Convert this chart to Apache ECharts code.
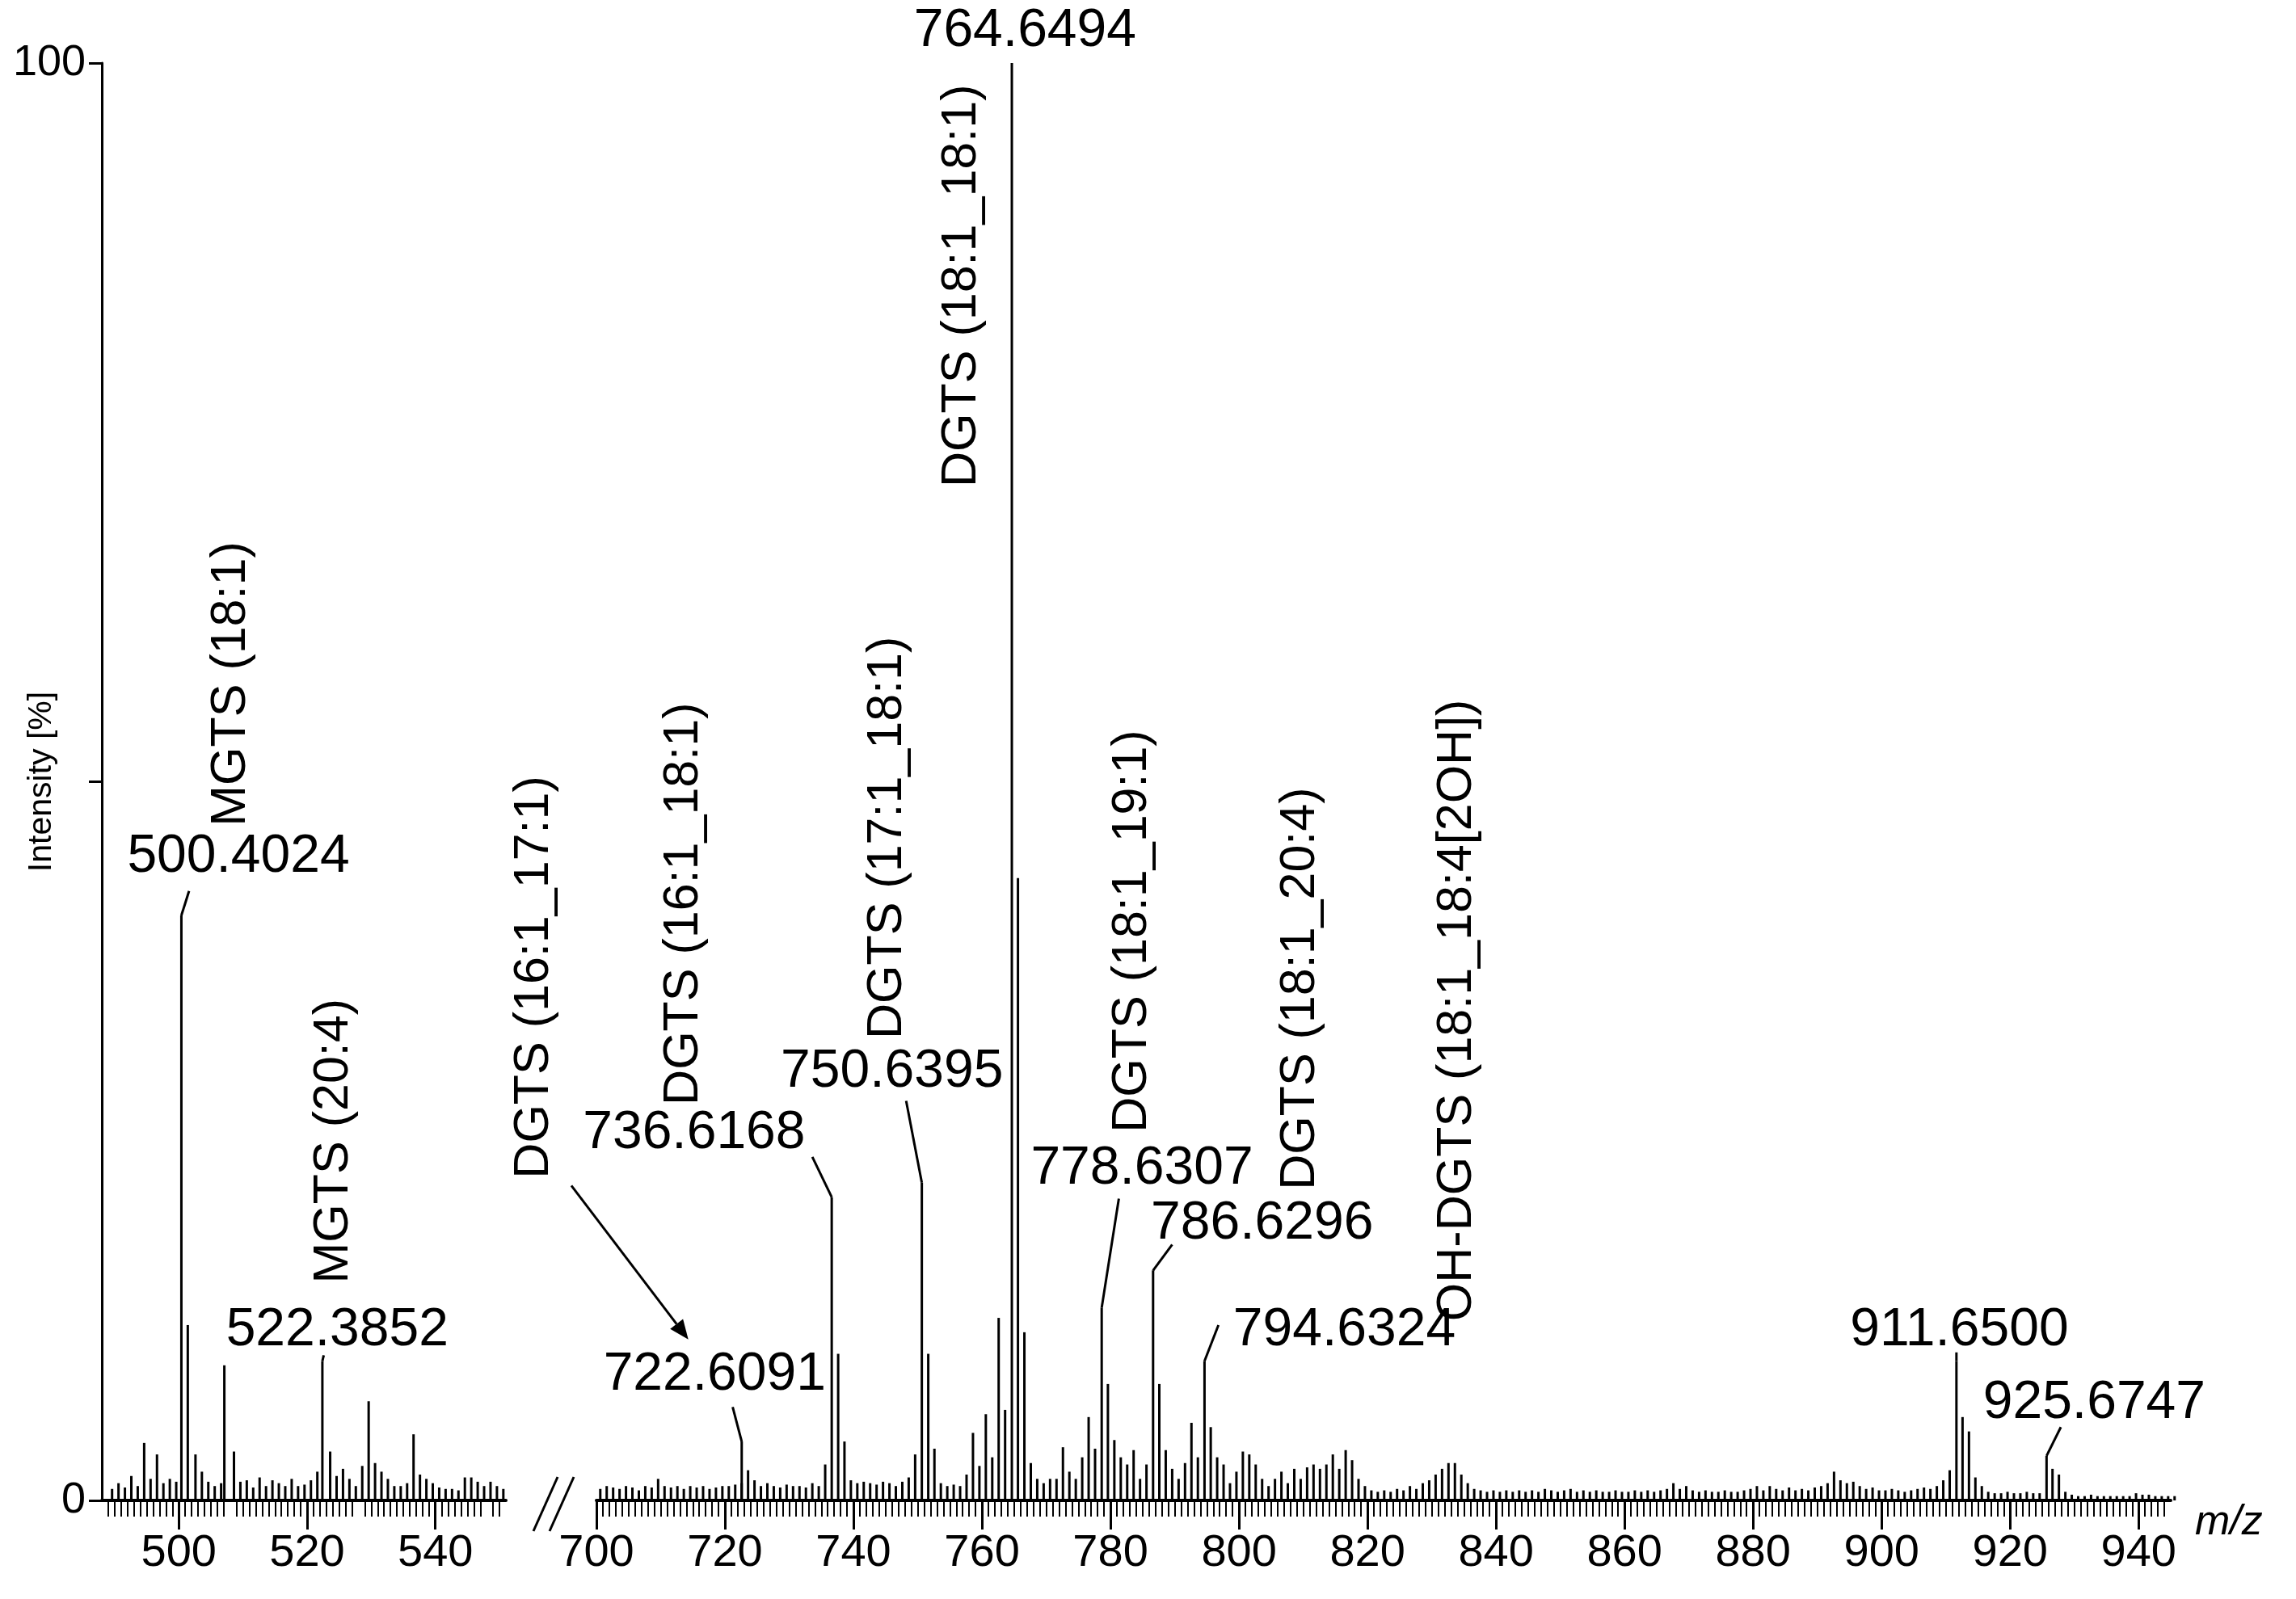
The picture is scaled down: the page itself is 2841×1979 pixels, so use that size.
<!DOCTYPE html>
<html><head><meta charset="utf-8">
<script src="https://cdn.jsdelivr.net/npm/echarts@6/dist/echarts.min.js"></script>
<style>html,body{margin:0;padding:0;background:#fff}#c{width:2841px;height:1979px}</style>
</head><body><div id="c"></div>
<script>
// ---------- DATA ----------
const leftStart = 489;
const leftNoise = [0.8,1.2,0.9,1.7,1.0,4.0,1.5,3.2,1.2,1.5,1.3,0,0,3.2,2.0,1.3,1.0,1.2,0,3.4,1.3,1.4,0.9,1.6,1.0,1.4,1.2,1.0,1.5,1.0,1.1,1.4,2.0,0,3.4,1.7,2.2,1.5,1.0,2.4,6.9,2.6,2.0,1.5,1.0,1.0,1.2,4.6,1.8,1.5,1.2,0.9,0.8,0.8,0.7,1.6,1.6,1.3,1.0,1.3,1.0,0.8];
const rightStart = 700;
const rightNoise = [
 0.8,1.0,0.9,0.8,1.0,0.9,0.7,1.0,0.9,1.5,1.0,0.9,1.0,0.8,1.0,0.9,1.0,0.8,0.9,1.0, // 700-719
 1.0,1.1,1.2,2.1,1.4,1.0,1.2,1.0,0.9,1.1,1.0,1.0,0.9,1.2,1.0,2.5,0,0,4.1,1.4, // 720-739
 1.2,1.3,1.2,1.1,1.3,1.2,1.0,1.3,1.6,3.2,0,0,3.6,1.2,1.0,1.1,1.0,1.8,4.7,2.4, // 740-759
 6.0,3.0,12.7,6.3,0,43.3,11.7,2.6,1.5,1.2,1.5,1.5,3.7,2.0,1.5,3.0,5.8,3.6,0,8.1, // 760-779
 4.2,3.0,2.5,3.5,1.5,2.5,0,8.1,3.5,2.2,1.5,2.6,5.4,3.0,0,5.1,3.0,2.5,1.2,2.0, // 780-799
 3.4,3.2,2.5,1.5,1.0,1.5,2.0,1.2,2.2,1.5,2.3,2.5,2.2,2.5,3.2,2.2,3.5,2.8,1.5,1.0, // 800-819
 0.7,0.6,0.7,0.6,0.8,0.7,1.0,0.8,1.2,1.4,1.8,2.2,2.6,2.6,1.8,1.2,0.8,0.7,0.6,0.7, // 820-839
 0.6,0.7,0.6,0.7,0.6,0.7,0.6,0.8,0.7,0.6,0.7,0.8,0.6,0.7,0.6,0.7,0.6,0.6,0.7,0.6, // 840-859
 0.6,0.7,0.6,0.7,0.6,0.7,0.8,1.2,0.8,1.0,0.7,0.6,0.7,0.6,0.6,0.7,0.6,0.6,0.7,0.8, // 860-879
 1.0,0.7,1.0,0.8,0.7,0.9,0.7,0.8,0.7,0.9,1.0,1.2,2.0,1.4,1.2,1.3,1.0,0.8,0.9,0.7, // 880-899
 0.7,0.8,0.7,0.6,0.7,0.8,0.9,0.8,1.0,1.4,2.1,0,5.8,4.8,1.6,1.0,0.6,0.5,0.5,0.6, // 900-919
 0.5,0.5,0.6,0.5,0.5,0,2.2,1.8,0.6,0.4,0.3,0.3,0.4,0.3,0.3,0.3,0.3,0.3,0.3,0.5, // 920-939
 0.4,0.4,0.3,0.3,0.3,0.3]; // 940-945
const mainPeaksLeft = [[500.4024,40.7],[501.4,12.2],[507.1,9.4],[522.3852,9.7]];
const mainPeaksRight = [[722.6091,4.1],[736.6168,21.1],[737.62,10.2],[750.6395,22.1],[751.64,10.2],[764.6494,100],[778.6307,13.4],[786.6296,16.0],[794.6324,9.7],[911.65,9.7],[925.6747,3.1]];
const peakLabelsLeft = ['500.4024','522.3852'];
const compoundsLeft = ['MGTS (18:1)','MGTS (20:4)'];
const peakLabelsRight = ['722.6091','736.6168','750.6395','764.6494','778.6307','786.6296','794.6324','911.6500','925.6747'];
const compoundsRight = ['DGTS (16:1_17:1)','DGTS (16:1_18:1)','DGTS (17:1_18:1)','DGTS (18:1_18:1)','DGTS (18:1_19:1)','DGTS (18:1_20:4)','OH-DGTS (18:1_18:4[2OH])'];
const xTicksLeft = [500,520,540];
const xTicksRight = [700,720,740,760,780,800,820,840,860,880,900,920,940];

// ---------- LAYOUT (annotation placement in data coords) ----------
const numLayoutLeft = [[500.4024,40.7,501.6,42.4,509.3,43.1],[522.3852,9.7,522.6,10.1,524.7,10.2]];
const compLayoutLeft = [[508.2,56.8],[524.2,25]];
const numLayoutRight = [
 [722.6091,4.1,721.2,6.5,718.4,7.1],
 [736.6168,21.1,733.6,23.9,715.2,23.9],
 [750.6395,22.1,748.2,27.8,746,28.2],
 [764.6494,100,764.6494,100,766.7,100.6],
 [778.6307,13.4,781.3,21.0,784.9,21.4],
 [786.6296,16.0,789.6,17.8,803.6,17.6],
 [794.6324,9.7,796.8,12.2,816.4,10.2],
 [911.65,9.7,911.65,10.3,912.1,10.2],
 [925.6747,3.1,927.9,5.1,933.1,5.1]];
const compLayoutRight = [[690.3,36.4],[713.6,41.5],[745.3,46.1],[756.9,84.5],[783.4,39.6],[809.6,35.6],[834,34.1]];
const arrowRight = [696.1,21.9,714.3,11.2];

const FONT = 'Liberation Sans, Arial, sans-serif';

function buildPeaks(start, noise, mains){
  const arr = noise.map((v,i)=>[start+i+0.6, v]).filter(d=>d[1]>0);
  mains.forEach(p=>arr.push(p));
  return arr;
}
const chart = echarts.init(document.getElementById('c'), null, {renderer:'canvas'});

function peakSeries(idx, data){
  return {type:'custom', xAxisIndex:idx, yAxisIndex:idx, data, clip:false,
    renderItem:(params, api)=>{
      const p0 = api.coord([api.value(0),0]);
      const p1 = api.coord([api.value(0),api.value(1)]);
      return {type:'line', shape:{x1:p0[0],y1:p0[1],x2:p1[0],y2:p1[1]}, style:{stroke:'#000',lineWidth:3}};
    }};
}
function annSeries(idx, labels, numLayout, comps, compLayout, arrow){
  return {type:'custom', xAxisIndex:idx, yAxisIndex:idx, data:[0], clip:false, silent:true, z:5,
    renderItem:(params, api)=>{
      const ch = [];
      labels.forEach((t,i)=>{
        const L = numLayout[i];
        const a = api.coord([L[0],L[1]]), b = api.coord([L[2],L[3]]), c = api.coord([L[4],L[5]]);
        ch.push({type:'line', shape:{x1:a[0],y1:a[1],x2:b[0],y2:b[1]}, style:{stroke:'#000',lineWidth:3}});
        ch.push({type:'text', x:c[0], y:c[1]+4, style:{text:t, fill:'#000', font:'66px '+FONT, align:'center', verticalAlign:'bottom'}});
      });
      comps.forEach((t,i)=>{
        const c = api.coord(compLayout[i]);
        ch.push({type:'text', x:c[0], y:c[1], rotation:Math.PI/2, style:{text:t, fill:'#000', font:'61px '+FONT, align:'center', verticalAlign:'middle'}});
      });
      if(arrow){
        const a = api.coord([arrow[0],arrow[1]]), b = api.coord([arrow[2],arrow[3]]);
        const ang = Math.atan2(b[1]-a[1], b[0]-a[0]);
        const hl=24, hw=10;
        const bx=b[0]-hl*Math.cos(ang), by=b[1]-hl*Math.sin(ang);
        ch.push({type:'line', shape:{x1:a[0],y1:a[1],x2:bx,y2:by}, style:{stroke:'#000',lineWidth:3}});
        ch.push({type:'polygon', shape:{points:[[b[0],b[1]],[bx-hw*Math.sin(ang),by+hw*Math.cos(ang)],[bx+hw*Math.sin(ang),by-hw*Math.cos(ang)]]}, style:{fill:'#000'}});
      }
      return {type:'group', children:ch};
    }};
}
const axisCommon = {
  type:'value', axisLine:{show:true,lineStyle:{color:'#000',width:4}},
  axisTick:{show:true,length:36,inside:false,lineStyle:{color:'#000',width:3}},
  minorTick:{show:true,splitNumber:20,length:20,lineStyle:{color:'#000',width:2}},
  splitLine:{show:false},
  axisLabel:{color:'#000',fontSize:56,fontFamily:FONT,margin:38}
};
const option = {
  backgroundColor:'#fff', animation:false,
  grid:[{left:126,width:500,top:78,bottom:122,outerBoundsMode:'none',containLabel:false},
        {left:738,width:1948,top:78,bottom:122,outerBoundsMode:'none',containLabel:false}],
  xAxis:[
    Object.assign({},axisCommon,{gridIndex:0,min:488,max:551,interval:20,
      axisLabel:Object.assign({},axisCommon.axisLabel,{customValues:xTicksLeft}),
      axisTick:Object.assign({},axisCommon.axisTick,{customValues:xTicksLeft})}),
    Object.assign({},axisCommon,{gridIndex:1,min:700,max:945,interval:20,
      name:'m/z',nameLocation:'end',nameGap:30,
      nameTextStyle:{color:'#000',fontSize:52,fontStyle:'italic',fontFamily:FONT,verticalAlign:'top',padding:[2,0,0,0]},
      axisLabel:Object.assign({},axisCommon.axisLabel,{customValues:xTicksRight}),
      axisTick:Object.assign({},axisCommon.axisTick,{customValues:xTicksRight})})
  ],
  yAxis:[
    {type:'value',gridIndex:0,min:0,max:100,interval:50,
      name:'Intensity [%]',nameLocation:'middle',nameGap:54,nameMoveOverlap:false,
      nameTextStyle:{color:'#000',fontSize:41,fontFamily:FONT},
      axisLine:{show:true,lineStyle:{color:'#000',width:3}},
      axisTick:{show:true,length:16,lineStyle:{color:'#000',width:3}},
      splitLine:{show:false},
      axisLabel:{color:'#000',fontSize:54,fontFamily:FONT,margin:20,formatter:v=>(v===50?'':String(v))}},
    {type:'value',gridIndex:1,min:0,max:100,show:false}
  ],
  graphic:[
    {type:'line',shape:{x1:660,y1:1895,x2:690,y2:1828},style:{stroke:'#000',lineWidth:3}},
    {type:'line',shape:{x1:680,y1:1895,x2:710,y2:1828},style:{stroke:'#000',lineWidth:3}}
  ],
  series:[
    peakSeries(0, buildPeaks(leftStart,leftNoise,mainPeaksLeft)),
    peakSeries(1, buildPeaks(rightStart,rightNoise,mainPeaksRight)),
    annSeries(0, peakLabelsLeft, numLayoutLeft, compoundsLeft, compLayoutLeft, null),
    annSeries(1, peakLabelsRight, numLayoutRight, compoundsRight, compLayoutRight, arrowRight)
  ]
};
chart.setOption(option);
</script></body></html>
